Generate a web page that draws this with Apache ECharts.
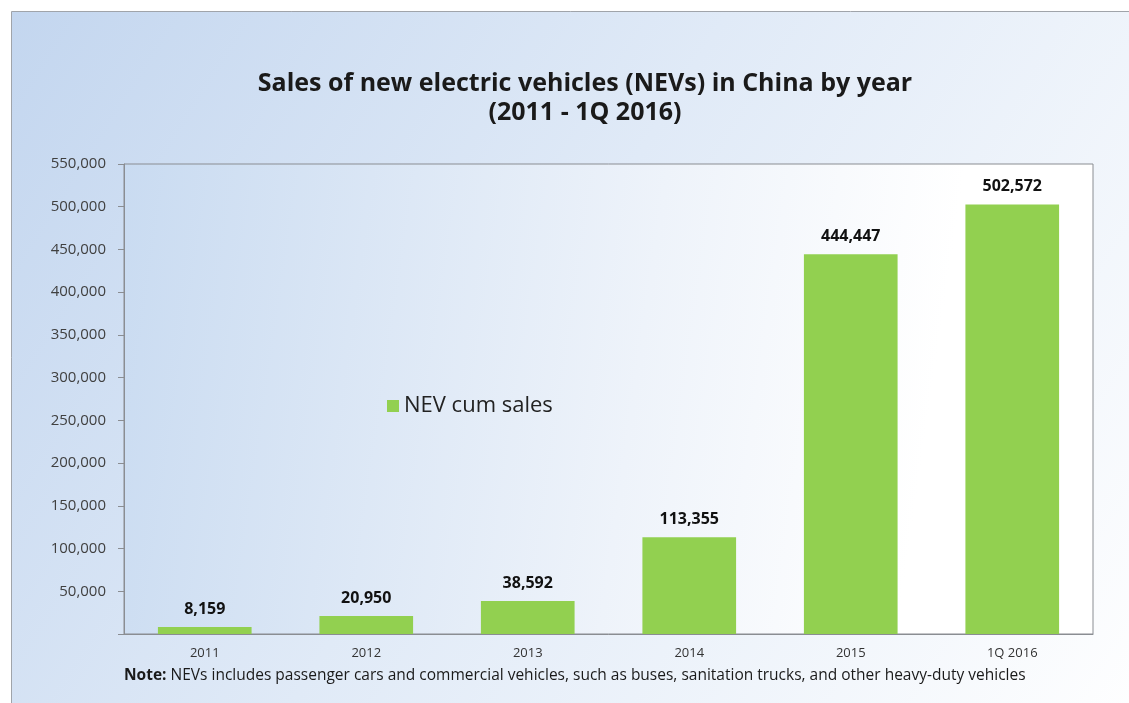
<!DOCTYPE html>
<html>
<head>
<meta charset="utf-8">
<script src="https://cdn.jsdelivr.net/npm/echarts@6/dist/echarts.min.js"></script>
<style>
html,body{margin:0;padding:0;background:#fff;}
#c{width:1129px;height:703px;}
</style>
</head>
<body>
<div id="c"></div>
<script>
const categories = ['2011', '2012', '2013', '2014', '2015', '1Q 2016'];
const salesValues = [8159, 20950, 38592, 113355, 444447, 502572];
const yTicks = [0, 50000, 100000, 150000, 200000, 250000, 300000, 350000, 400000, 450000, 500000, 550000];
const seriesName = 'NEV cum sales';
const titleLines = ['Sales of new electric vehicles (NEVs) in China by year', '(2011 - 1Q 2016)'];
const noteBold = 'Note:';
const noteText = ' NEVs includes passenger cars and commercial vehicles, such as buses, sanitation trucks, and other heavy-duty vehicles';

const fmt = v => v.toLocaleString('en-US');
const FONT = '"Open Sans", "Liberation Sans", sans-serif';

const chart = echarts.init(document.getElementById('c'));
chart.setOption({
  backgroundColor: '#ffffff',
  animation: false,
  graphic: [
    {
      type: 'rect', z: -10, silent: true,
      shape: {x: 11.5, y: 11.5, width: 1140, height: 720},
      style: {
        fill: new echarts.graphic.LinearGradient(0, 0, 1, 1, [
          {offset: 0, color: '#c3d6ef'},
          {offset: 0.45, color: '#e0eaf7'},
          {offset: 1, color: '#ffffff'}
        ]),
        stroke: '#a0a4aa', lineWidth: 1
      }
    },
    {
      type: 'text', x: 585, y: 69, z: 10,
      style: {
        text: titleLines.join('\n'), fill: '#1a1a1a', font: 'bold 25px ' + FONT,
        textAlign: 'center', textVerticalAlign: 'top', lineHeight: 29
      }
    },
    {
      type: 'text', left: 124, top: 668, z: 10,
      style: {
        text: '{b|' + noteBold + '}{n|' + noteText + '}',
        rich: {
          b: {fontFamily: FONT, fontWeight: 'bold', fontSize: 15.5, fill: '#1a1a1a'},
          n: {fontFamily: FONT, fontSize: 15.5, fill: '#1a1a1a'}
        }
      }
    }
  ],
  legend: {
    left: 382, top: 390,
    icon: 'rect', itemWidth: 12, itemHeight: 12, itemGap: 8,
    textStyle: {fontFamily: FONT, fontSize: 22, color: '#222'},
    data: [seriesName]
  },
  grid: {
    left: 124, top: 164, right: 36, bottom: 69,
    show: true,
    borderColor: '#8a8d92', borderWidth: 1,
    backgroundColor: new echarts.graphic.LinearGradient(0, 0, 1, 0.3, [
      {offset: 0, color: '#c9dbf1'},
      {offset: 0.55, color: '#eef3fa'},
      {offset: 0.85, color: '#ffffff'},
      {offset: 1, color: '#ffffff'}
    ])
  },
  xAxis: {
    type: 'category',
    data: categories,
    axisLine: {lineStyle: {color: '#8a8d92'}},
    axisTick: {show: false},
    axisLabel: {fontFamily: FONT, fontSize: 13, color: '#333', margin: 13}
  },
  yAxis: {
    type: 'value',
    min: yTicks[0], max: yTicks[yTicks.length - 1], interval: yTicks[1] - yTicks[0],
    axisLine: {show: true, lineStyle: {color: '#8a8d92'}},
    axisTick: {show: true, length: 6, lineStyle: {color: '#8a8d92'}},
    splitLine: {show: false},
    axisLabel: {
      fontFamily: FONT, fontSize: 15, color: '#404040', margin: 18,
      formatter: v => v === 0 ? '' : fmt(v)
    }
  },
  series: [{
    name: seriesName,
    type: 'bar',
    data: salesValues,
    barWidth: '58%',
    itemStyle: {color: '#92d050'},
    label: {
      show: true, position: 'top', distance: 10,
      fontFamily: FONT, fontWeight: 'bold', fontSize: 16, color: '#111',
      formatter: p => fmt(p.value)
    }
  }]
});
</script>
</body>
</html>
